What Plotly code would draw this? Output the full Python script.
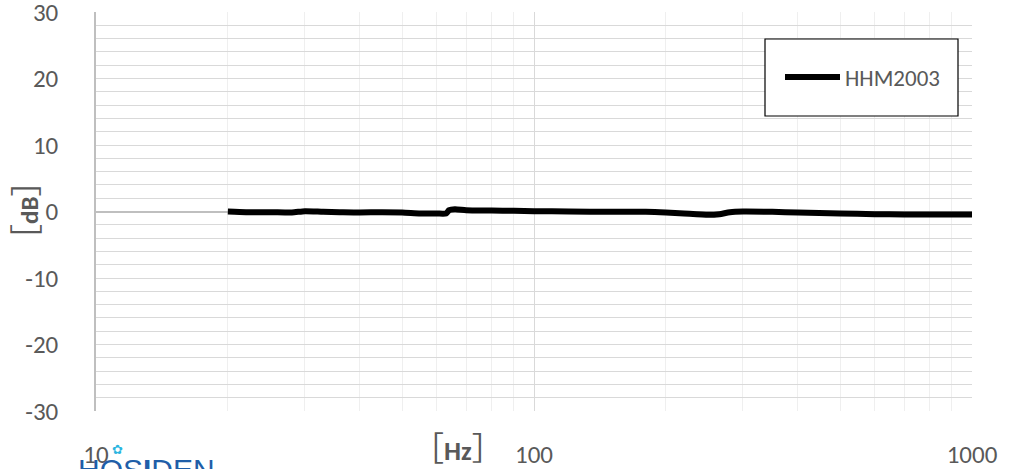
import plotly.graph_objects as go

freq_hz = [20, 22, 25, 28, 30, 33, 36, 40, 45, 50, 55, 60, 63, 64, 66, 70, 80, 90, 100,
           120, 150, 180, 200, 220, 250, 265, 280, 300, 350, 400, 500, 600, 700, 800, 1000]
level_db = [0.0, -0.1, -0.1, -0.15, 0.05, -0.05, -0.1, -0.15, -0.1, -0.15, -0.3, -0.3, -0.3,
            0.2, 0.35, 0.2, 0.15, 0.1, 0.05, 0.0, -0.05, -0.05, -0.15, -0.3, -0.5, -0.4,
            -0.1, 0.0, -0.05, -0.15, -0.3, -0.4, -0.45, -0.45, -0.45]
series_name = "HHM2003"
x_ticks = [10, 100, 1000]
x_minor = [20, 30, 40, 50, 60, 70, 80, 90, 200, 300, 400, 500, 600, 700, 800, 900]
y_ticks = [-30, -20, -10, 0, 10, 20, 30]

W, H = 1009, 469
L, R, T, B = 96, 37, 12, 58
pw, ph = W - L - R, H - T - B

def px_x(p):
    return (p - L) / pw

def px_y(p):
    return (H - B - p) / ph

font_fam = "Carlito, Lato, 'Open Sans', sans-serif"
grey = "#595959"
cjk = "<span style='font-family:Noto Sans CJK JP;font-weight:normal;font-size:32px'>{}</span>"

fig = go.Figure()
fig.add_trace(go.Scatter(
    x=freq_hz, y=level_db, mode="lines", name=series_name,
    line=dict(color="black", width=6, shape="spline", smoothing=0.6),
))

fig.update_layout(
    width=W, height=H,
    margin=dict(l=L, r=R, t=T, b=B, autoexpand=False),
    paper_bgcolor="white", plot_bgcolor="white",
    showlegend=True,
    legend=dict(x=px_x(780), y=px_y(77), xanchor="left", yanchor="middle",
                bgcolor="rgba(0,0,0,0)", borderwidth=0,
                font=dict(family=font_fam, size=23, color=grey),
                itemwidth=55),
    xaxis=dict(type="log", range=[1, 3], tickvals=x_ticks, ticktext=[str(v) for v in x_ticks],
               showgrid=True, gridcolor="#d9d9d9", gridwidth=1, automargin=False,
               minor=dict(tickvals=x_minor, showgrid=True, gridcolor="#efefef", gridwidth=1, ticks=""),
               ticks="", showline=False, zeroline=False,
               ticklabelstandoff=26, ticklabeloverflow="allow",
               tickfont=dict(family=font_fam, size=25, color=grey)),
    yaxis=dict(range=[-30, 30], tickvals=y_ticks, ticktext=[str(v) for v in y_ticks],
               showgrid=True, gridcolor="#d9d9d9", gridwidth=1, automargin=False,
               minor=dict(dtick=2, showgrid=True, gridcolor="#d9d9d9", gridwidth=1, ticks=""),
               zeroline=True, zerolinecolor="#bfbfbf", zerolinewidth=1.5,
               showline=True, linecolor="#bfbfbf", linewidth=1.5,
               ticks="", ticklabelstandoff=31, ticklabeloverflow="allow",
               tickfont=dict(family=font_fam, size=25, color=grey)),
    shapes=[dict(type="rect", xref="paper", yref="paper",
                 x0=px_x(765), x1=px_x(958), y0=px_y(116), y1=px_y(39),
                 line=dict(color="black", width=1.2), fillcolor="white", layer="above")],
    annotations=[
        dict(text=cjk.format("［") + "<b>dB</b>" + cjk.format("］"), xref="paper", yref="paper",
             x=px_x(24), y=px_y(211),
             xanchor="center", yanchor="middle", textangle=-90, showarrow=False,
             font=dict(family=font_fam, size=25, color=grey)),
        dict(text=cjk.format("［") + "<b>Hz</b>" + cjk.format("］"), xref="paper", yref="paper",
             x=px_x(458), y=px_y(446),
             xanchor="center", yanchor="middle", showarrow=False,
             font=dict(family=font_fam, size=27, color=grey)),
        dict(text="HOS<b>I</b>DEN", xref="paper", yref="paper", x=px_x(77), y=px_y(452),
             xanchor="left", yanchor="top", showarrow=False, borderpad=0,
             font=dict(family="'Liberation Sans', Arial, sans-serif", size=30, color="#1f5ea8")),
        dict(text="✿", xref="paper", yref="paper", x=px_x(117), y=px_y(449),
             xanchor="center", yanchor="middle", showarrow=False,
             font=dict(family="'DejaVu Sans', sans-serif", size=13, color="#2bb5e0")),
    ],
)

fig.write_html("out.html", config={"displayModeBar": False},
               post_script="document.body.style.margin='0';document.body.style.overflow='hidden';")
